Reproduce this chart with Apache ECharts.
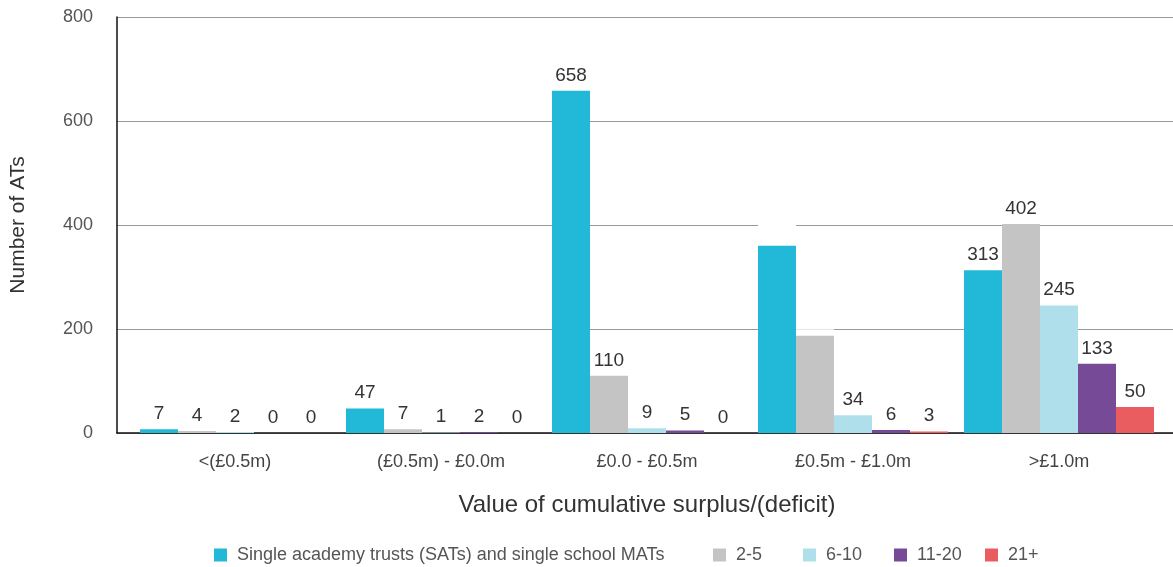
<!DOCTYPE html>
<html>
<head>
<meta charset="utf-8">
<script src="https://cdn.jsdelivr.net/npm/echarts@6/dist/echarts.min.js"></script>
<style>
  html, body { margin: 0; padding: 0; background: #fff; }
  #chart { width: 1173px; height: 567px; }
</style>
</head>
<body>
<div id="chart"></div>
<script>
// Surplus/(deficit) bands on the category axis
const categories = ['<(£0.5m)', '(£0.5m) - £0.0m', '£0.0 - £0.5m', '£0.5m - £1.0m', '>£1.0m'];

// Number of academy trusts per band, by trust size
const satValues   = [7, 47, 658, 360, 313];
const size2to5    = [4, 7, 110, 187, 402];
const size6to10   = [2, 1, 9, 34, 245];
const size11to20  = [0, 2, 5, 6, 133];
const size21plus  = [0, 0, 0, 3, 50];

const seriesNames = ['Single academy trusts (SATs) and single school MATs', '2-5', '6-10', '11-20', '21+'];
const seriesColors = ['#22b8d8', '#c4c4c4', '#b0dfec', '#774a98', '#e95c60'];

// Value labels left blank in the £0.5m - £1.0m band (blank white tags)
const blankLabels = { 0: [3], 1: [3] };

const yTicks = [0, 200, 400, 600, 800];

// x offset of each legend entry
const legendLefts = [214, 713, 803, 894, 985];

const FONT = '"Liberation Sans", Arial, sans-serif';

function makeSeries(idx, values) {
  const blanks = blankLabels[idx] || [];
  return {
    name: seriesNames[idx],
    type: 'bar',
    xAxisIndex: 1,
    yAxisIndex: 1,
    barWidth: 38,
    barGap: '0%',
    itemStyle: { color: seriesColors[idx] },
    label: {
      show: true,
      position: 'top',
      distance: 6,
      fontFamily: FONT,
      fontSize: 19,
      color: '#333',
      formatter: p => blanks.includes(p.dataIndex) ? ' ' : String(p.value)
    },
    data: values.map((v, i) => blanks.includes(i)
      ? { value: v, label: { backgroundColor: '#fff', width: 38, height: 22, padding: 0 } }
      : v)
  };
}

const legends = seriesNames.map((name, i) => ({
  left: legendLefts[i],
  top: 546,
  padding: 0,
  itemWidth: 13,
  itemHeight: 13,
  icon: 'rect',
  textStyle: { fontFamily: FONT, fontSize: 18, color: '#555', padding: [0, 0, 0, 5] },
  data: [name]
}));

const chart = echarts.init(document.getElementById('chart'), null, { renderer: 'canvas' });

chart.setOption({
  animation: false,
  backgroundColor: '#fff',
  textStyle: { fontFamily: FONT },
  grid: [
    // frame: axis lines, gridlines, value ticks
    { left: 117, right: 0, top: 17, bottom: 134 },
    // bars and category labels
    { left: 132, right: 11, top: 17, bottom: 134 }
  ],
  legend: legends,
  xAxis: [
    {
      gridIndex: 0,
      type: 'category',
      data: categories,
      axisLine: { show: true, lineStyle: { color: '#111', width: 1.5 } },
      axisTick: { show: false },
      axisLabel: { show: false },
      splitLine: { show: false }
    },
    {
      gridIndex: 1,
      type: 'category',
      data: categories,
      axisLine: { show: false },
      axisTick: { show: false },
      axisLabel: { fontFamily: FONT, fontSize: 18, color: '#444', margin: 20 },
      name: 'Value of cumulative surplus/(deficit)',
      nameLocation: 'middle',
      nameGap: 60,
      nameTextStyle: { fontFamily: FONT, fontSize: 24, color: '#333' }
    }
  ],
  yAxis: [
    {
      gridIndex: 0,
      type: 'value',
      min: yTicks[0],
      max: yTicks[yTicks.length - 1],
      interval: 200,
      axisLine: { show: true, lineStyle: { color: '#111', width: 1.5 } },
      axisTick: { show: false },
      axisLabel: { fontFamily: FONT, fontSize: 18, color: '#555', margin: 24 },
      splitLine: { show: true, lineStyle: { color: '#9a9a9a', width: 1 } },
      name: 'Number of ATs',
      nameLocation: 'middle',
      nameGap: 88,
      nameTextStyle: { fontFamily: FONT, fontSize: 21, color: '#333' }
    },
    {
      gridIndex: 1,
      type: 'value',
      min: yTicks[0],
      max: yTicks[yTicks.length - 1],
      interval: 200,
      show: false,
      splitLine: { show: false }
    }
  ],
  series: [
    makeSeries(0, satValues),
    makeSeries(1, size2to5),
    makeSeries(2, size6to10),
    makeSeries(3, size11to20),
    makeSeries(4, size21plus)
  ]
});
</script>
</body>
</html>
